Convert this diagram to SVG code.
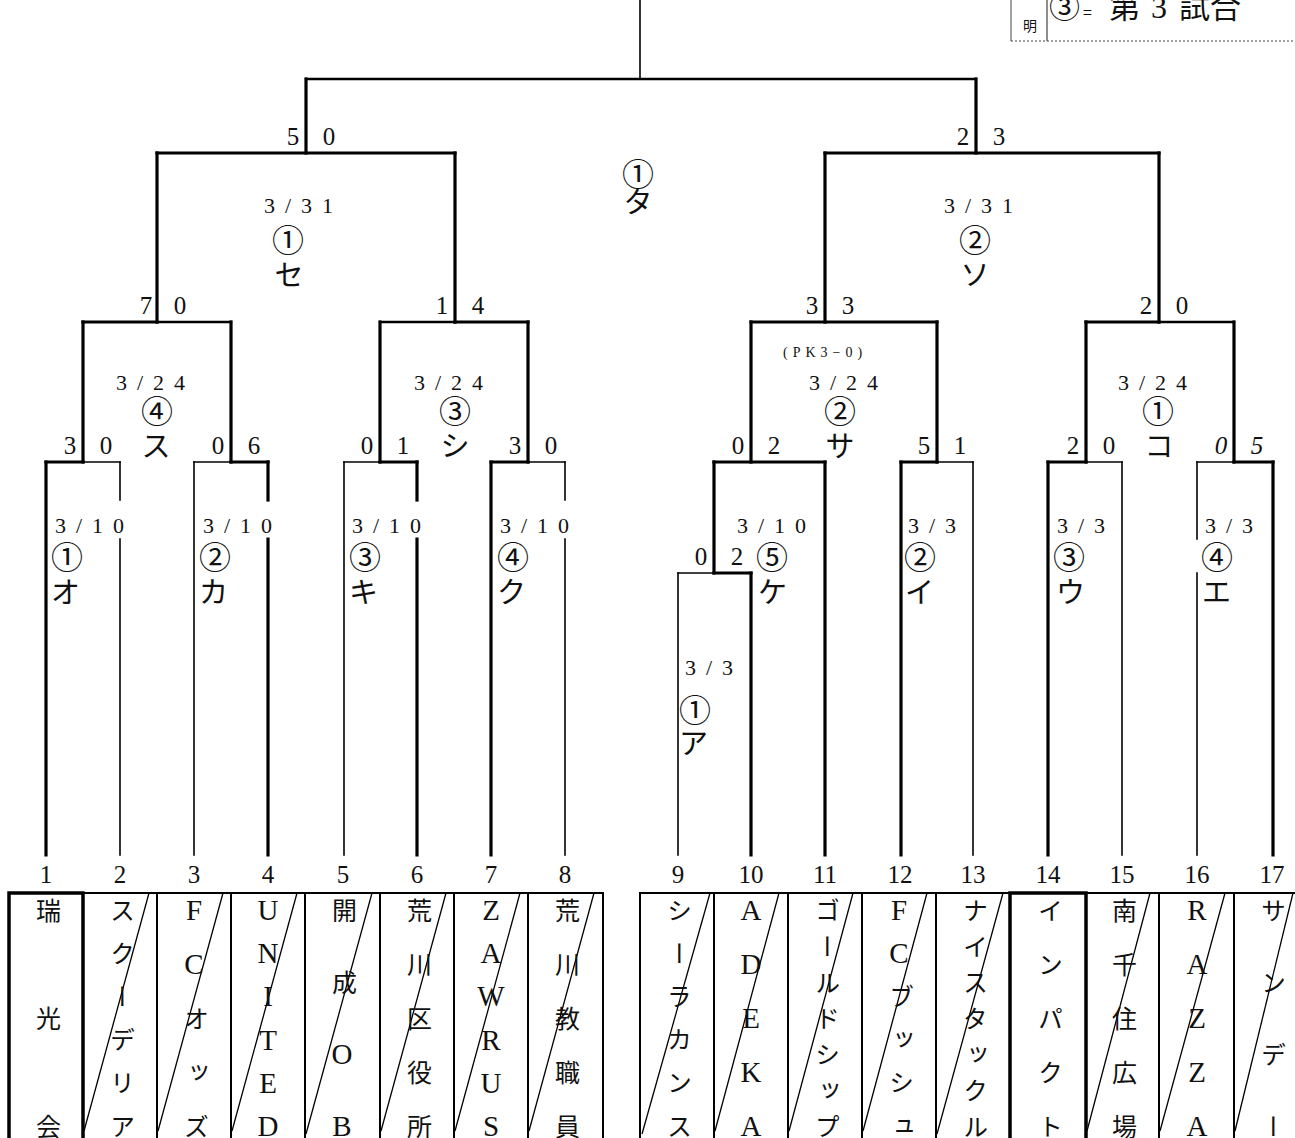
<svg xmlns="http://www.w3.org/2000/svg" width="1295" height="1138" viewBox="0 0 1295 1138">
<style>
.tk{stroke:#000;stroke-width:3.2;stroke-linecap:square;fill:none}
.tn{stroke:#000;stroke-width:1.6;stroke-linecap:square;fill:none}
.md{stroke:#000;stroke-width:2.3;stroke-linecap:square;fill:none}
.box{fill:none;stroke:#000;stroke-width:2}
.boxk{fill:none;stroke:#000;stroke-width:3.5}
.dg{stroke:#000;stroke-width:1.3}
text{fill:#111}
.no{font-family:'Liberation Serif','Noto Sans CJK JP',serif;font-size:25px;text-anchor:middle}
.sc{font-family:'Liberation Serif',serif;font-size:25px;text-anchor:middle}
.dt{font-family:'Liberation Serif',serif;font-size:22px;letter-spacing:10px}
.pk{font-family:'Liberation Serif',serif;font-size:14px;letter-spacing:5px}
.ci{font-family:'Noto Sans CJK JP',sans-serif;font-size:32px}
.ka{font-family:'Noto Sans CJK JP',sans-serif;font-size:29px}
.c{text-anchor:middle}
.nm{font-family:'Liberation Serif','Noto Sans CJK JP',serif;font-size:25px;writing-mode:vertical-rl;text-orientation:upright;text-anchor:middle}
.la{font-size:29px}
.lg{font-family:'Noto Sans CJK JP',sans-serif}
</style>
<rect width="1295" height="1138" fill="#fff"/>

<g id="legend">
<line x1="1011" y1="0" x2="1011" y2="41" stroke="#444" stroke-width="1"/>
<line x1="1047" y1="0" x2="1047" y2="41" stroke="#444" stroke-width="1.2"/>
<line x1="1011" y1="41" x2="1295" y2="41" stroke="#444" stroke-width="1" stroke-dasharray="2 2"/>
<text class="lg" x="1030" y="31" font-size="14" text-anchor="middle">明</text>
<text class="lg" y="18" font-size="31"><tspan x="1049">③</tspan><tspan x="1083" font-size="16">=</tspan><tspan x="1109">第</tspan><tspan x="1151" font-family="Liberation Serif" font-size="32">3</tspan><tspan x="1179">試合</tspan></text>
</g>

<g id="connectors">
<line class="tn" x1="640" y1="0" x2="640" y2="79"/>
<line class="md" x1="306" y1="79" x2="976" y2="79"/>
<line class="tk" x1="306" y1="79" x2="306" y2="153"/>
<line class="tk" x1="976" y1="79" x2="976" y2="153"/>
<line class="tk" x1="157" y1="153" x2="455" y2="153"/>
<line class="tk" x1="157" y1="153" x2="157" y2="322"/>
<line class="tk" x1="455" y1="153" x2="455" y2="322"/>
<line class="tk" x1="825" y1="153" x2="1159" y2="153"/>
<line class="tk" x1="825" y1="153" x2="825" y2="322"/>
<line class="tk" x1="1159" y1="153" x2="1159" y2="322"/>
<line class="tk" x1="83" y1="322" x2="157" y2="322"/>
<line class="md" x1="157" y1="322" x2="231" y2="322"/>
<line class="tk" x1="83" y1="322" x2="83" y2="462"/>
<line class="tk" x1="231" y1="322" x2="231" y2="462"/>
<line class="md" x1="380" y1="322" x2="455" y2="322"/>
<line class="tk" x1="455" y1="322" x2="528" y2="322"/>
<line class="tk" x1="380" y1="322" x2="380" y2="462"/>
<line class="tk" x1="528" y1="322" x2="528" y2="462"/>
<line class="tk" x1="751" y1="322" x2="937" y2="322"/>
<line class="tk" x1="751" y1="322" x2="751" y2="462"/>
<line class="tk" x1="937" y1="322" x2="937" y2="462"/>
<line class="tk" x1="1086" y1="322" x2="1159" y2="322"/>
<line class="md" x1="1159" y1="322" x2="1234" y2="322"/>
<line class="tk" x1="1086" y1="322" x2="1086" y2="462"/>
<line class="tk" x1="1234" y1="322" x2="1234" y2="462"/>
<line class="tk" x1="46" y1="462" x2="83" y2="462"/>
<line class="tn" x1="83" y1="462" x2="120" y2="462"/>
<line class="tk" x1="46" y1="462" x2="46" y2="855"/>
<line class="tn" x1="120" y1="462" x2="120" y2="500"/>
<line class="tn" x1="120" y1="539" x2="120" y2="855"/>
<line class="tn" x1="194" y1="462" x2="231" y2="462"/>
<line class="tk" x1="231" y1="462" x2="268" y2="462"/>
<line class="tn" x1="194" y1="462" x2="194" y2="855"/>
<line class="tk" x1="268" y1="462" x2="268" y2="500"/>
<line class="tk" x1="268" y1="539" x2="268" y2="855"/>
<line class="tn" x1="344" y1="462" x2="380" y2="462"/>
<line class="tk" x1="380" y1="462" x2="417" y2="462"/>
<line class="tn" x1="344" y1="462" x2="344" y2="855"/>
<line class="tk" x1="417" y1="462" x2="417" y2="500"/>
<line class="tk" x1="417" y1="539" x2="417" y2="855"/>
<line class="tk" x1="491" y1="462" x2="528" y2="462"/>
<line class="tn" x1="528" y1="462" x2="565" y2="462"/>
<line class="tk" x1="491" y1="462" x2="491" y2="855"/>
<line class="tn" x1="565" y1="462" x2="565" y2="500"/>
<line class="tn" x1="565" y1="539" x2="565" y2="855"/>
<line class="tk" x1="714" y1="462" x2="825" y2="462"/>
<line class="tk" x1="714" y1="462" x2="714" y2="573"/>
<line class="tk" x1="825" y1="462" x2="825" y2="855"/>
<line class="tn" x1="678" y1="573" x2="714" y2="573"/>
<line class="tk" x1="714" y1="573" x2="751" y2="573"/>
<line class="tn" x1="678" y1="573" x2="678" y2="855"/>
<line class="tk" x1="751" y1="573" x2="751" y2="855"/>
<line class="tk" x1="901" y1="462" x2="937" y2="462"/>
<line class="tn" x1="937" y1="462" x2="973" y2="462"/>
<line class="tk" x1="901" y1="462" x2="901" y2="855"/>
<line class="tn" x1="973" y1="462" x2="973" y2="855"/>
<line class="tk" x1="1048" y1="462" x2="1086" y2="462"/>
<line class="tn" x1="1086" y1="462" x2="1122" y2="462"/>
<line class="tk" x1="1048" y1="462" x2="1048" y2="855"/>
<line class="tn" x1="1122" y1="462" x2="1122" y2="855"/>
<line class="tn" x1="1197" y1="462" x2="1234" y2="462"/>
<line class="tk" x1="1234" y1="462" x2="1273" y2="462"/>
<line class="tn" x1="1197" y1="462" x2="1197" y2="539"/>
<line class="tn" x1="1197" y1="573" x2="1197" y2="855"/>
<line class="tk" x1="1273" y1="462" x2="1273" y2="855"/>
</g>

<g id="scores">
<text class="sc" x="293" y="145">5</text><text class="sc" x="329" y="145">0</text>
<text class="sc" x="963" y="145">2</text><text class="sc" x="999" y="145">3</text>
<text class="sc" x="146" y="314">7</text><text class="sc" x="180" y="314">0</text>
<text class="sc" x="442" y="314">1</text><text class="sc" x="478" y="314">4</text>
<text class="sc" x="812" y="314">3</text><text class="sc" x="848" y="314">3</text>
<text class="sc" x="1146" y="314">2</text><text class="sc" x="1182" y="314">0</text>
<text class="sc" x="70" y="454">3</text><text class="sc" x="106" y="454">0</text>
<text class="sc" x="218" y="454">0</text><text class="sc" x="254" y="454">6</text>
<text class="sc" x="367" y="454">0</text><text class="sc" x="403" y="454">1</text>
<text class="sc" x="515" y="454">3</text><text class="sc" x="551" y="454">0</text>
<text class="sc" x="738" y="454">0</text><text class="sc" x="774" y="454">2</text>
<text class="sc" x="924" y="454">5</text><text class="sc" x="960" y="454">1</text>
<text class="sc" x="1073" y="454">2</text><text class="sc" x="1109" y="454">0</text>
<text class="sc" x="1221" y="454" font-style="italic">0</text><text class="sc" x="1257" y="454" font-style="italic">5</text>
<text class="sc" x="701" y="565">0</text><text class="sc" x="737" y="565">2</text>
</g>

<g id="match-ta"><text class="ci c" x="638" y="186">①</text><text class="ka c" x="638" y="213">タ</text></g>
<g id="match-se"><text class="dt" x="264" y="213">3/31</text><text class="ci c" x="288" y="252">①</text><text class="ka c" x="289" y="286">セ</text></g>
<g id="match-so"><text class="dt" x="944" y="213">3/31</text><text class="ci c" x="975" y="252">②</text><text class="ka c" x="975" y="286">ソ</text></g>
<g id="match-su"><text class="dt" x="116" y="390">3/24</text><text class="ci c" x="157" y="423">④</text><text class="ka c" x="156" y="457">ス</text></g>
<g id="match-shi"><text class="dt" x="414" y="390">3/24</text><text class="ci c" x="455" y="423">③</text><text class="ka c" x="455" y="457">シ</text></g>
<g id="match-sa"><text class="pk" x="783" y="357">(PK3−0)</text><text class="dt" x="809" y="390">3/24</text><text class="ci c" x="840" y="423">②</text><text class="ka c" x="840" y="457">サ</text></g>
<g id="match-ko"><text class="dt" x="1118" y="390">3/24</text><text class="ci c" x="1158" y="423">①</text><text class="ka c" x="1159" y="457">コ</text></g>
<g id="match-o"><text class="dt" x="55" y="533">3/10</text><text class="ci" x="51" y="569">①</text><text class="ka" x="51" y="603">オ</text></g>
<g id="match-ka"><text class="dt" x="203" y="533">3/10</text><text class="ci" x="199" y="569">②</text><text class="ka" x="199" y="603">カ</text></g>
<g id="match-ki"><text class="dt" x="352" y="533">3/10</text><text class="ci" x="349" y="569">③</text><text class="ka" x="349" y="603">キ</text></g>
<g id="match-ku"><text class="dt" x="500" y="533">3/10</text><text class="ci" x="497" y="569">④</text><text class="ka" x="497" y="603">ク</text></g>
<g id="match-ke"><text class="dt" x="737" y="533">3/10</text><text class="ci" x="756" y="569">⑤</text><text class="ka" x="758" y="603">ケ</text></g>
<g id="match-i"><text class="dt" x="908" y="533">3/3</text><text class="ci" x="904" y="569">②</text><text class="ka" x="905" y="603">イ</text></g>
<g id="match-u"><text class="dt" x="1057" y="533">3/3</text><text class="ci" x="1053" y="569">③</text><text class="ka" x="1056" y="603">ウ</text></g>
<g id="match-e"><text class="dt" x="1205" y="533">3/3</text><text class="ci" x="1201" y="569">④</text><text class="ka" x="1202" y="603">エ</text></g>
<g id="match-a"><text class="dt" x="685" y="675">3/3</text><text class="ci" x="679" y="722">①</text><text class="ka" x="679" y="754">ア</text></g>

<g id="team-1"><text class="no" x="46" y="883">1</text><rect class="boxk" x="9" y="893" width="74" height="260"/><text class="nm" x="46" y="910 1018 1126">瑞光会</text></g>
<g id="team-2"><text class="no" x="120" y="883">2</text><rect class="box" x="83" y="893" width="74" height="260"/><line class="dg" x1="149" y1="893" x2="84" y2="1131"/><text class="nm" x="120" y="910 953.2 996.4 1039.6 1082.8 1126">スクーデリア</text></g>
<g id="team-3"><text class="no" x="194" y="883">3</text><rect class="box" x="157" y="893" width="74" height="260"/><line class="dg" x1="223" y1="893" x2="158" y2="1131"/><text class="nm" x="194" y="910 964 1018 1072 1126"><tspan class="la">FC</tspan>オッズ</text></g>
<g id="team-4"><text class="no" x="268" y="883">4</text><rect class="box" x="231" y="893" width="74" height="260"/><line class="dg" x1="297" y1="893" x2="232" y2="1131"/><text class="nm la" x="268" y="910 953.2 996.4 1039.6 1082.8 1126">UNITED</text></g>
<g id="team-5"><text class="no" x="343" y="883">5</text><rect class="box" x="305" y="893" width="75" height="260"/><line class="dg" x1="372" y1="893" x2="306" y2="1134"/><text class="nm" x="342" y="910 982 1054 1126">開成<tspan class="la">OB</tspan></text></g>
<g id="team-6"><text class="no" x="417" y="883">6</text><rect class="box" x="380" y="893" width="74" height="260"/><line class="dg" x1="446" y1="893" x2="381" y2="1131"/><text class="nm" x="417" y="910 964 1018 1072 1126">荒川区役所</text></g>
<g id="team-7"><text class="no" x="491" y="883">7</text><rect class="box" x="454" y="893" width="74" height="260"/><line class="dg" x1="520" y1="893" x2="455" y2="1131"/><text class="nm la" x="491" y="910 953.2 996.4 1039.6 1082.8 1126">ZAWRUS</text></g>
<g id="team-8"><text class="no" x="565" y="883">8</text><rect class="box" x="528" y="893" width="75" height="260"/><line class="dg" x1="594" y1="893" x2="529" y2="1131"/><text class="nm" x="565" y="910 964 1018 1072 1126">荒川教職員</text></g>
<g id="team-9"><text class="no" x="678" y="883">9</text><rect class="box" x="640" y="893" width="74" height="260"/><line class="dg" x1="710" y1="893" x2="642" y2="1134"/><text class="nm" x="677" y="910 953.2 996.4 1039.6 1082.8 1126">シーラカンス</text></g>
<g id="team-10"><text class="no" x="751" y="883">10</text><rect class="box" x="714" y="893" width="74" height="260"/><line class="dg" x1="779" y1="893" x2="715" y2="1131"/><text class="nm la" x="751" y="910 964 1018 1072 1126">ADEKA</text></g>
<g id="team-11"><text class="no" x="825" y="883">11</text><rect class="box" x="788" y="893" width="74" height="260"/><line class="dg" x1="853" y1="893" x2="789" y2="1131"/><text class="nm" x="825" y="910 946 982 1018 1054 1090 1126">ゴールドシップ</text></g>
<g id="team-12"><text class="no" x="900" y="883">12</text><rect class="box" x="862" y="893" width="74" height="260"/><line class="dg" x1="927" y1="893" x2="863" y2="1131"/><text class="nm" x="899" y="910 953.2 996.4 1039.6 1082.8 1126"><tspan class="la">FC</tspan>ブッシュ</text></g>
<g id="team-13"><text class="no" x="973" y="883">13</text><rect class="box" x="936" y="893" width="74" height="260"/><line class="dg" x1="1003" y1="893" x2="937" y2="1134"/><text class="nm" x="973" y="910 946 982 1018 1054 1090 1126">ナイスタックル</text></g>
<g id="team-14"><text class="no" x="1048" y="883">14</text><rect class="boxk" x="1010" y="893" width="76" height="260"/><text class="nm" x="1048" y="910 964 1018 1072 1126">インパクト</text></g>
<g id="team-15"><text class="no" x="1122" y="883">15</text><rect class="box" x="1086" y="893" width="73" height="260"/><line class="dg" x1="1150" y1="893" x2="1087" y2="1131"/><text class="nm" x="1122" y="910 964 1018 1072 1126">南千住広場</text></g>
<g id="team-16"><text class="no" x="1197" y="883">16</text><rect class="box" x="1159" y="893" width="75" height="260"/><line class="dg" x1="1225" y1="893" x2="1160" y2="1131"/><text class="nm la" x="1197" y="910 964 1018 1072 1126">RAZZA</text></g>
<g id="team-17"><text class="no" x="1272" y="883">17</text><rect class="box" x="1234" y="893" width="74" height="260"/><line class="dg" x1="1293" y1="893" x2="1235" y2="1131"/><text class="nm" x="1271" y="910 982 1054 1126">サンデー</text></g>
</svg>
